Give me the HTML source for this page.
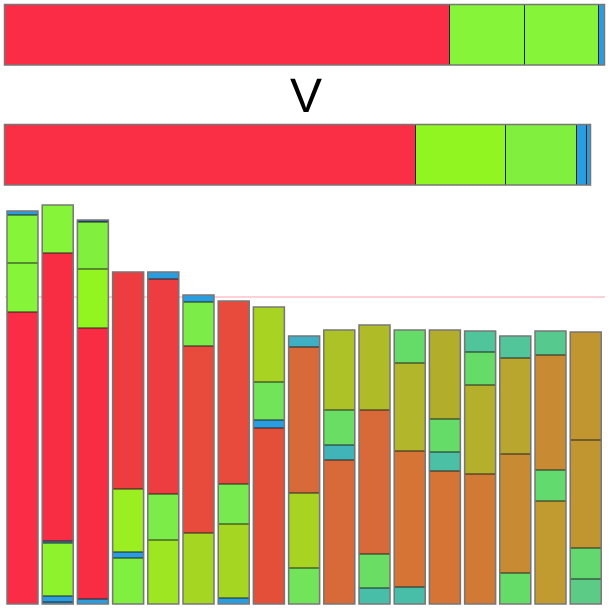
<!DOCTYPE html>
<html><head><meta charset="utf-8">
<style>
html,body{margin:0;padding:0;background:#fff;width:610px;height:610px;overflow:hidden}
svg{display:block}
text{font-family:"Liberation Sans",sans-serif}
</style></head>
<body>
<svg id="chart" width="610" height="610">
<text x="306" y="112" font-size="48" text-anchor="middle" fill="#000">V</text>
</svg>
<script>
// Top horizontal comparison bars: segment widths (px-equivalent units)
const topBarA = [445, 75, 74, 6];
const topBarAColors = ['#fb2c46','#86f53a','#86f53a','#2a9de0'];
const topBarB = [411, 90, 71, 10, 4];
const topBarBColors = ['#fa2e45','#90f520','#80ef3e','#2a9de0','#2a9de0'];

// Vertical stacked bars: segment heights from bottom to top
const bars = [
  [292, 49, 48, 4],
  [2, 6, 53, 2, 288, 48],
  [5, 271, 59, 47, 2],
  [46, 6, 63, 217],
  [64, 46, 215, 7],
  [71, 187, 44, 7],
  [6, 74, 40, 183],
  [176, 8, 38, 75],
  [36, 75, 146, 11],
  [144, 15, 35, 80],
  [16, 34, 144, 85],
  [17, 136, 88, 33],
  [133, 19, 33, 89],
  [130, 89, 33, 21],
  [31, 119, 96, 22],
  [103, 31, 115, 24],
  [25, 31, 108, 108]
];
const barColors = [
  ['#fb2c46','#86f53a','#86f53a','#2a9de0'],
  ['#2a9de0','#2a9de0','#8ef22c','#2a9de0','#f82d44','#86f53a'],
  ['#2a9de0','#f82d44','#92f520','#80ef3e','#1c5fa0'],
  ['#80ef3e','#2a9de0','#9bee20','#ee3d40'],
  ['#9fe622','#7bec48','#ee3d40','#2a9de0'],
  ['#a5d622','#e84a3c','#7bec48','#2a9de0'],
  ['#2a9de0','#a5d622','#78ea50','#e84a3c'],
  ['#e44f3a','#2a9de0','#72e45a','#a8d322'],
  ['#72e45a','#a8d322','#d86a3a','#3fafc3'],
  ['#d86a3a','#40b4b8','#6ade64','#adc226'],
  ['#48bea8','#6ade64','#d86a3a','#b0bb28'],
  ['#48bea8','#d57435','#b2b62a','#66dc68'],
  ['#d57435','#4cc0a4','#66dc68','#b2ae2c'],
  ['#d07a35','#b4b02c','#66dc68','#50c49a'],
  ['#66dc68','#c98a34','#b9a62e','#52c59a'],
  ['#c19a30','#62da6e','#c98a34','#56c98e'],
  ['#5ccb85','#62d86e','#c19631','#c19631']
];
const refLine = 307; // reference level (same units as bar heights)

const svg = document.getElementById('chart');
const NS = 'http://www.w3.org/2000/svg';
const baseY = 604, x0 = 7, pitch = 35.2, bw = 31;
const yScale = v => baseY - v;
const xScale = i => x0 + i * pitch;

function mk(tag, attrs){
  const e = document.createElementNS(NS, tag);
  for (const k in attrs) e.setAttribute(k, attrs[k]);
  return e;
}

function hbar(vals, cols, y, h, name){
  const g = mk('g', {});
  
  
  let x = 4.5;
  let total = 0;
  vals.forEach((v, i) => {
    const r = mk('rect', {x: x, y: y, width: v, height: h, fill: cols[i], stroke: '#222', 'stroke-width': 1});
    
    
    g.appendChild(r);
    x += v; total += v;
  });
  const o = mk('rect', {x: 4.5, y: y, width: total, height: h, fill: 'none', stroke: '#777', 'stroke-width': 1.5});
  g.appendChild(o);
  svg.appendChild(g);
}
hbar(topBarA, topBarAColors, 4.5, 60.5, 'top-bar-a');
hbar(topBarB, topBarBColors, 124.5, 60.5, 'top-bar-b');

const line = mk('line', {x1: 5, x2: 605, y1: yScale(refLine), y2: yScale(refLine), stroke: '#ffc0cb', 'stroke-width': 1.5});


svg.appendChild(line);

bars.forEach((segs, bi) => {
  const g = mk('g', {});
  
  
  let cum = 0;
  segs.forEach((v, si) => {
    const r = mk('rect', {x: xScale(bi), y: yScale(cum + v), width: bw, height: v, fill: barColors[bi][si], stroke: '#222', 'stroke-width': 1});
    
    
    g.appendChild(r);
    cum += v;
  });
  const o = mk('rect', {x: xScale(bi), y: yScale(cum), width: bw, height: cum, fill: 'none', stroke: '#777', 'stroke-width': 1.5});
  g.appendChild(o);
  svg.appendChild(g);
});
</script>
</body></html>
